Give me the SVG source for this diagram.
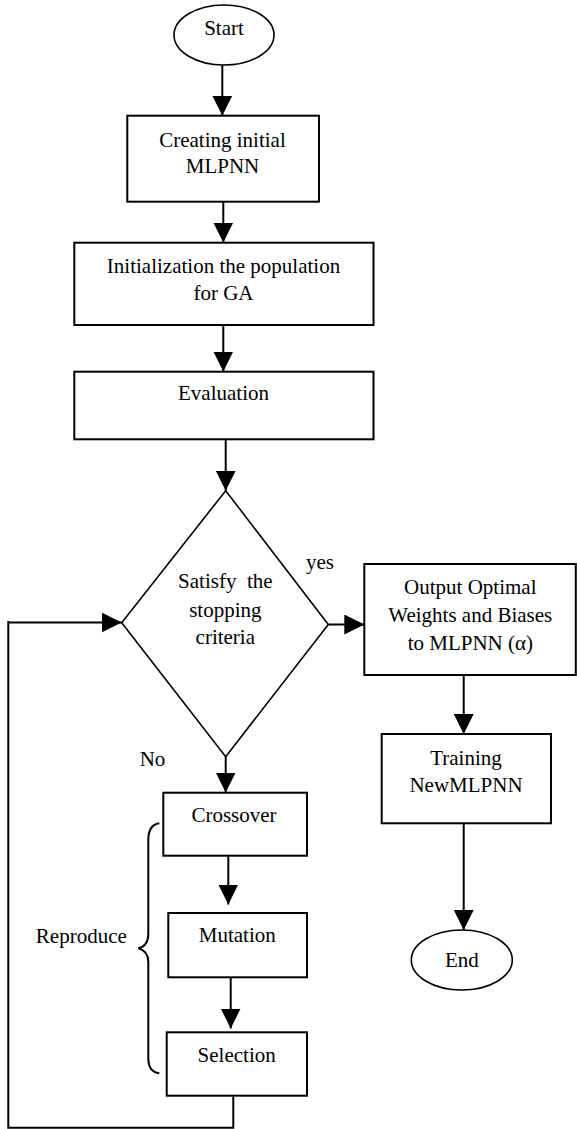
<svg xmlns="http://www.w3.org/2000/svg" width="577" height="1129" viewBox="0 0 577 1129">
<style>
.n{fill:#fff;stroke:#000;stroke-width:2}
.d{fill:#fff;stroke:#000;stroke-width:1.6}
.c{fill:none;stroke:#000;stroke-width:2}
text{font-family:"Liberation Serif","Times New Roman",serif;font-size:21px;fill:#000;text-anchor:middle}
.l{text-anchor:start}
</style>
<defs>
<marker id="ah" markerUnits="userSpaceOnUse" markerWidth="20" markerHeight="20" refX="20" refY="10" orient="auto" viewBox="0 0 20 20">
<path d="M0,0 L20,10 L0,20 z" fill="#000"/>
</marker>
</defs>
<g id="connectors">
<line class="c" x1="222.3" y1="65" x2="222.3" y2="115.7" marker-end="url(#ah)"/>
<line class="c" x1="223.3" y1="201.7" x2="223.3" y2="242.5" marker-end="url(#ah)"/>
<line class="c" x1="223.3" y1="325" x2="223.3" y2="371.5" marker-end="url(#ah)"/>
<line class="c" x1="225.7" y1="439.3" x2="225.7" y2="490.7" marker-end="url(#ah)"/>
<line class="c" x1="328.3" y1="624.5" x2="364.3" y2="624.5" marker-end="url(#ah)"/>
<line class="c" x1="463.7" y1="675" x2="463.7" y2="734" marker-end="url(#ah)"/>
<line class="c" x1="463.7" y1="823.3" x2="463.7" y2="930" marker-end="url(#ah)"/>
<line class="c" x1="225.7" y1="756.7" x2="225.7" y2="792.5" marker-end="url(#ah)"/>
<line class="c" x1="228.3" y1="855.7" x2="228.3" y2="904.5" marker-end="url(#ah)"/>
<line class="c" x1="230.7" y1="977.3" x2="230.7" y2="1028.5" marker-end="url(#ah)"/>
<path class="c" d="M233.3,1095.7 V1127.7 H8.3 V621 M8.3,622.5 H121.7" marker-end="url(#ah)"/>
<text x="320" y="569.3">yes</text>
<text x="152.5" y="765.7">No</text>
</g>
<g id="start"><ellipse class="d" cx="224" cy="35" rx="50" ry="30"/><text x="224" y="35">Start</text></g>
<g id="create"><rect class="n" x="127.3" y="115.7" width="191.7" height="86"/><text x="222.5" y="146.7">Creating initial</text><text x="222.5" y="173.3">MLPNN</text></g>
<g id="init"><rect class="n" x="74.3" y="242.7" width="299.2" height="82.3"/><text x="223.5" y="273.3">Initialization the population</text><text x="223.5" y="300">for GA</text></g>
<g id="eval"><rect class="n" x="74.3" y="371.7" width="299.2" height="67.6"/><text x="223.5" y="400">Evaluation</text></g>
<g id="decision"><polygon class="d" points="225.7,490.7 328.3,624.5 225.7,756.7 121.7,622.7"/><text x="225.3" y="588.3" xml:space="preserve">Satisfy  the</text><text x="225.3" y="616.5">stopping</text><text x="225.3" y="644.3">criteria</text></g>
<g id="output"><rect class="n" x="364.3" y="564" width="211.5" height="111"/><text x="470.3" y="594">Output Optimal</text><text x="470.3" y="621.7">Weights and Biases</text><text x="470.3" y="650">to MLPNN (α)</text></g>
<g id="training"><rect class="n" x="381.7" y="734" width="169.3" height="89.3"/><text x="466" y="765">Training</text><text x="466" y="792.3">NewMLPNN</text></g>
<g id="end"><ellipse class="d" cx="461.8" cy="960" rx="50.5" ry="30"/><text x="461.8" y="966.5">End</text></g>
<g id="crossover"><rect class="n" x="163.3" y="792.7" width="143.7" height="63"/><text x="234" y="821.7">Crossover</text></g>
<g id="mutation"><rect class="n" x="168.3" y="913" width="138.7" height="64.3"/><text x="237.3" y="941.7">Mutation</text></g>
<g id="selection"><rect class="n" x="166.7" y="1032.3" width="140.3" height="63.4"/><text x="236.7" y="1061.7">Selection</text></g>
<g id="reproduce"><path class="c" d="M159.3,823.3 Q148.3,825 148.3,840 V934 Q148.3,946 138.3,948.3 Q148.3,951 148.3,962 V1058 Q148.3,1072 159.3,1073.3"/><text x="81.3" y="943.3">Reproduce</text></g>
</svg>
